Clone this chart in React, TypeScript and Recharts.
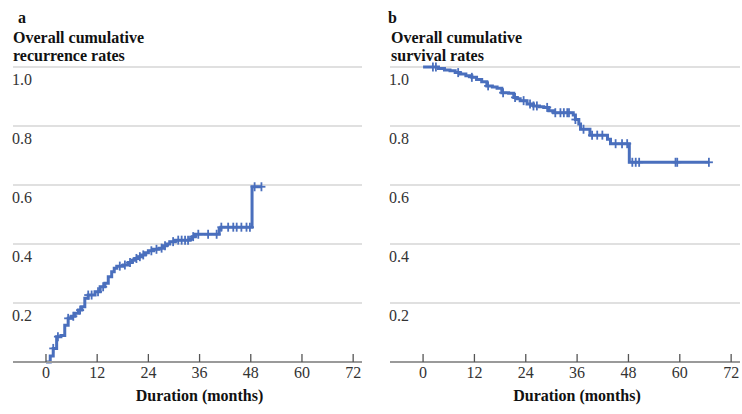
import React from 'react';
import { LineChart, Line, XAxis, YAxis, CartesianGrid } from 'recharts';

// Panel a: cumulative recurrence (time in months, value, censored flag)
const recTimes = [0, 1.0, 1.7, 2.5, 2.8, 3.5, 4.4, 5.2, 6.0, 6.4, 6.8, 7.6, 8.0, 8.4, 9.1, 9.9, 10.7, 11.5, 12.2, 12.7, 13.4, 13.8, 14.6, 15.4, 16.0, 16.6, 17.3, 18.1, 18.5, 19.3, 19.7, 20.2, 20.8, 21.2, 21.6, 22.0, 22.4, 22.8, 23.3, 24.0, 24.7, 25.2, 25.9, 26.5, 27.1, 27.5, 27.9, 28.3, 29.0, 29.8, 30.3, 31.0, 31.8, 32.6, 33.3, 33.8, 34.3, 34.5, 35.0, 35.7, 38.0, 40.0, 40.6, 41.0, 41.1, 42.7, 43.9, 44.7, 45.8, 47.0, 47.8, 48.3, 48.9, 50.5];
const recValues = [0, 0.02, 0.046, 0.086, 0.086, 0.09, 0.125, 0.148, 0.155, 0.155, 0.165, 0.176, 0.176, 0.187, 0.216, 0.227, 0.227, 0.238, 0.238, 0.255, 0.255, 0.267, 0.289, 0.306, 0.318, 0.325, 0.325, 0.329, 0.329, 0.337, 0.337, 0.345, 0.351, 0.351, 0.357, 0.357, 0.363, 0.363, 0.37, 0.377, 0.377, 0.382, 0.382, 0.386, 0.386, 0.394, 0.394, 0.4, 0.408, 0.408, 0.413, 0.413, 0.413, 0.413, 0.413, 0.418, 0.425, 0.425, 0.433, 0.433, 0.433, 0.433, 0.45, 0.457, 0.457, 0.457, 0.457, 0.457, 0.457, 0.457, 0.457, 0.594, 0.594, 0.594];
const recCensored = [0, 0, 1, 0, 1, 0, 0, 1, 0, 1, 0, 0, 1, 0, 0, 1, 1, 0, 1, 0, 1, 0, 0, 0, 0, 0, 1, 0, 1, 0, 1, 0, 0, 1, 0, 1, 0, 1, 0, 0, 1, 0, 1, 0, 1, 0, 1, 0, 0, 1, 0, 1, 1, 1, 1, 0, 0, 1, 0, 1, 1, 1, 0, 0, 1, 1, 1, 1, 1, 1, 1, 0, 1, 1];

// Panel b: cumulative survival
const survTimes = [0, 2.3, 3.0, 3.6, 5.0, 6.3, 7.5, 8.2, 8.7, 10.0, 11.4, 12.5, 13.7, 14.9, 15.2, 16.2, 17.3, 18.4, 18.7, 20.0, 21.2, 21.5, 22.0, 22.7, 23.5, 24.3, 25.0, 25.8, 26.6, 27.2, 28.2, 29.0, 29.4, 30.5, 30.9, 32.1, 32.9, 33.7, 34.1, 35.1, 35.6, 36.4, 36.8, 37.5, 39.0, 39.5, 40.7, 41.9, 43.1, 43.8, 45.0, 46.5, 47.7, 48.2, 48.9, 49.7, 50.5, 59.0, 59.4, 66.8];
const survValues = [1.0, 1.0, 1.0, 0.995, 0.99, 0.987, 0.981, 0.981, 0.976, 0.97, 0.965, 0.958, 0.95, 0.936, 0.936, 0.932, 0.928, 0.913, 0.913, 0.911, 0.897, 0.897, 0.892, 0.886, 0.886, 0.875, 0.875, 0.868, 0.868, 0.865, 0.863, 0.863, 0.852, 0.845, 0.845, 0.845, 0.845, 0.845, 0.845, 0.837, 0.822, 0.807, 0.789, 0.789, 0.769, 0.769, 0.769, 0.769, 0.755, 0.74, 0.74, 0.74, 0.74, 0.677, 0.677, 0.677, 0.677, 0.677, 0.677, 0.677];
const survCensored = [0, 1, 1, 0, 0, 0, 0, 1, 0, 0, 1, 0, 0, 0, 1, 0, 0, 0, 1, 0, 0, 1, 0, 0, 1, 0, 1, 1, 1, 0, 0, 1, 0, 0, 1, 1, 1, 1, 1, 0, 1, 0, 0, 1, 0, 1, 1, 1, 0, 0, 1, 1, 1, 0, 1, 1, 1, 1, 1, 1];

const xTicks = [0, 12, 24, 36, 48, 60, 72];
const yTicks = [0.2, 0.4, 0.6, 0.8, 1.0];

const BLUE = '#4a6fbd';
const FONT = "'Liberation Serif', 'DejaVu Serif', 'Noto Serif', serif";

const build = (t: number[], v: number[], c: number[]) =>
  t.map((time, i) => ({ t: time, v: v[i], c: c[i] }));

const recData = build(recTimes, recValues, recCensored);
const survData = build(survTimes, survValues, survCensored);

const CensorDot = (props: any) => {
  const { cx, cy, payload, index } = props;
  if (!payload || !payload.c || cx == null || cy == null) return <g key={`d${index}`} />;
  return (
    <g key={`d${index}`}>
      <line x1={cx} x2={cx} y1={cy - 4.5} y2={cy + 4.5} stroke={BLUE} strokeWidth={1.8} />
      <line x1={cx - 4} x2={cx + 4} y1={cy} y2={cy} stroke={BLUE} strokeWidth={1.8} />
    </g>
  );
};

const XTick = (props: any) => {
  const { x, y, payload } = props;
  return (
    <g>
      <line x1={x} x2={x} y1={y} y2={y - 8} stroke="#555" strokeWidth={1.3} />
      <text x={x} y={y + 16} textAnchor="middle" style={{ fontFamily: FONT, fontSize: 16 }} fill="#333">
        {payload.value}
      </text>
    </g>
  );
};

const YTick = (props: any) => {
  const { x, y, payload } = props;
  return (
    <text x={x - 1} y={y + 18} textAnchor="start" style={{ fontFamily: FONT, fontSize: 16 }} fill="#333">
      {Number(payload.value).toFixed(1)}
    </text>
  );
};

const Panel = ({ data, marginLeft, marginRight, width }: any) => (
  <LineChart
    width={width}
    height={414}
    data={data}
    margin={{ top: 67, left: marginLeft, right: marginRight, bottom: 22 }}
  >
    <CartesianGrid vertical={false} stroke="#d6d6d6" strokeWidth={1.5} />
    <XAxis
      dataKey="t"
      type="number"
      domain={[-7.73, 74.07]}
      ticks={xTicks}
      allowDataOverflow
      height={30}
      tickSize={0}
      tickMargin={0}
      tickLine={false}
      axisLine={{ stroke: '#9a9a9a', strokeWidth: 2 }}
      tick={<XTick />}
      interval={0}
    />
    <YAxis
      type="number"
      domain={[0, 1]}
      ticks={yTicks}
      width={1}
      tickSize={0}
      tickMargin={0}
      tickLine={false}
      axisLine={false}
      tick={<YTick />}
      interval={0}
    />
    <Line
      dataKey="v"
      type="stepAfter"
      stroke={BLUE}
      strokeWidth={3}
      dot={CensorDot}
      activeDot={false}
      isAnimationActive={false}
    />
  </LineChart>
);

export default function App() {
  return (
    <div style={{ position: 'absolute', left: 0, top: 0, width: 742, height: 414, background: '#fff' }}>
      <div style={{ position: 'absolute', left: 0, top: 0 }}>
        <Panel data={recData} marginLeft={12} marginRight={8} width={370} />
      </div>
      <div style={{ position: 'absolute', left: 370, top: 0 }}>
        <Panel data={survData} marginLeft={19} marginRight={2} width={372} />
      </div>
      <svg width={742} height={414} style={{ position: 'absolute', left: 0, top: 0, pointerEvents: 'none' }}>
        <g style={{ fontFamily: FONT, fontWeight: 'bold', fontSize: 16 }} fill="#111">
          <text x={18} y={23}>a</text>
          <text x={13} y={43}>Overall cumulative</text>
          <text x={13} y={61}>recurrence rates</text>
          <text x={388} y={23}>b</text>
          <text x={391} y={43}>Overall cumulative</text>
          <text x={391} y={61}>survival rates</text>
          <text x={199.5} y={401} textAnchor="middle">Duration (months)</text>
          <text x={577} y={401} textAnchor="middle">Duration (months)</text>
        </g>
      </svg>
    </div>
  );
}
